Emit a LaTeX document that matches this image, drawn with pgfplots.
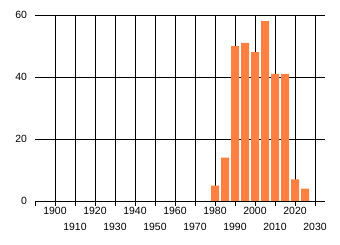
\documentclass[border=0pt]{standalone}
\usepackage{fontspec}
\setmainfont{Liberation Sans}
\usepackage{pgfplots}
\pgfplotsset{compat=1.18}
\definecolor{barorange}{RGB}{255,128,64}
\begin{document}
\begin{tikzpicture}
\begin{axis}[
  scale only axis,
  width=290bp, height=186bp,
  xmin=1890, xmax=2035,
  ymin=0, ymax=60,
  axis x line=bottom,
  axis y line=left,
  x axis line style={-, line width=0.9pt},
  y axis line style={draw=none},
  xtick={1900,1920,...,2020},
  extra x ticks={1910,1930,...,2030},
  extra x tick style={xticklabel style={yshift=-16bp}},
  minor xtick={1890},
  /pgf/number format/1000 sep={},
  /pgf/number format/assume math mode=true,
  xticklabel style={font=\fontsize{10.5}{12}\selectfont, inner sep=1pt},
  xtick align=outside,
  major tick length=5bp,
  minor tick length=5bp,
  ytick={0,20,40,60},
  ytick style={draw=none},
  yticklabel style={font=\fontsize{10.5}{12}\selectfont, xshift=-2bp},
  grid=major,
  major grid style={black, line width=0.9pt},
  xtick style={black, line width=0.9pt},
  minor x tick style={black, line width=0.9pt},
  ybar, bar width=4,
]
\addplot[fill=barorange, draw=none] coordinates {
  (1980,5) (1985,14) (1990,50) (1995,51) (2000,48)
  (2005,58) (2010,41) (2015,41) (2020,7) (2025,4)
};
\end{axis}
\path (current axis.south west) ++(-35bp,-44bp) coordinate (bl);
\path (current axis.north east) ++(15bp,15bp) coordinate (tr);
\useasboundingbox (bl) rectangle (tr);
\end{tikzpicture}
\end{document}
